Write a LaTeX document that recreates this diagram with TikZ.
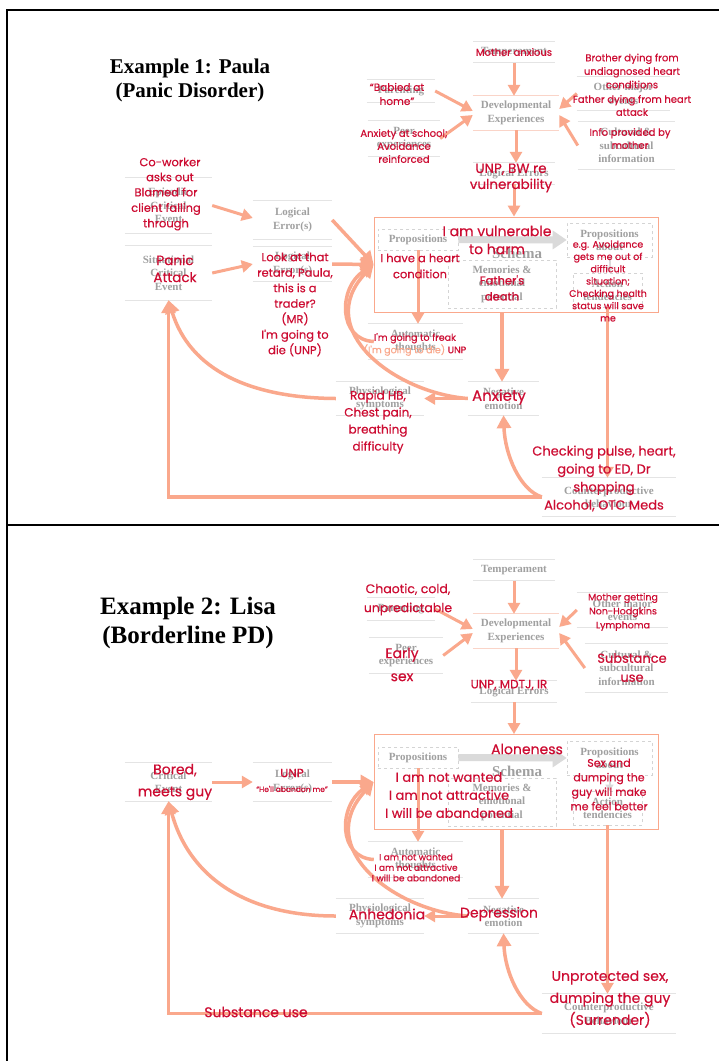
\documentclass[tikz,border=0pt]{standalone}
\usepackage{fontspec}
\usetikzlibrary{arrows.meta}
\newfontfamily\rf{Poppins}[FakeBold=0.35]
\newfontfamily\gf{Liberation Serif}
\definecolor{sal}{RGB}{250,168,140}
\definecolor{crim}{RGB}{205,12,50}
\definecolor{gtx}{RGB}{160,160,160}
\definecolor{gln}{RGB}{228,228,228}
\definecolor{pln}{RGB}{250,212,200}
\definecolor{dsh}{RGB}{212,212,212}
\definecolor{garr}{RGB}{218,218,218}
\newcommand\fsz[2]{\fontsize{#1}{#2}\selectfont}
\tikzset{
 gnode/.style={inner sep=0pt, align=center, text=gtx, font=\gf\bfseries\fsz{11}{13.5}},
 gbox/.style={gnode, draw=dsh, dashed, line width=0.6pt},
 rt/.style={inner sep=0pt, align=center, text=crim},
 arr/.style={draw=sal, line width=3pt, -{Triangle[length=11pt,width=12pt]}},
 arrb/.style={draw=sal, line width=3.5pt, -{Triangle[length=13pt,width=14pt]}},
 glines/.style={draw=gln, line width=0.8pt},
 plines/.style={draw=pln, line width=0.8pt},
 garrow/.style={draw=garr, line width=7pt, -{Triangle[length=14pt,width=18pt]}},
 garrows/.style={draw=garr, line width=2pt, -{Triangle[length=6pt,width=8pt]}},
 schemabox/.style={draw=sal, line width=0.8pt, inner sep=0pt},
 title/.style={inner sep=0pt, align=center, text=black},
}
\begin{document}
\begin{tikzpicture}[x=1pt,y=-1pt]
\useasboundingbox (0,0) rectangle (719,1061);
\fill[white] (0,0) rectangle (719,1061);
% frame
\draw[black, line width=1.1pt] (7,1061) -- (7,10) -- (719,10);
\draw[black, line width=1.1pt] (7,525) -- (719,525);

% ================= PANEL 1 =================
\node[title, font=\gf\bfseries\fsz{21}{24}] (title1) at (190,80) {Example 1: Paula\\(Panic Disorder)};

\node[schemabox, minimum width=284pt, minimum height=95pt] (schema1) at (516,264.5) {};
\node[gnode, minimum width=81pt, minimum height=21pt] (temp1) at (514,52) {Temperament};
\node[gnode, minimum width=68pt, minimum height=22pt] (par1) at (401,91) {Parenting};
\node[gnode, minimum width=72pt, minimum height=35pt] (peer1) at (404,138.5) {Peer\\experiences};
\node[gnode, minimum width=86pt, minimum height=34pt] (dev1) at (516,113) {Developmental\\Experiences};
\node[gnode, minimum width=93pt, minimum height=33pt] (other1) at (623.5,93.5) {Other major\\events};
\node[gnode, minimum width=97pt, minimum height=47pt] (cult1) at (626.5,145.5) {Cultural \&\\subcultural\\information};
\node[gnode, minimum width=82pt, minimum height=21pt] (logerr1) at (514,173.5) {Logical Errors};
\node[gbox, minimum width=80pt, minimum height=21pt] (prop1) at (418,239.5) {Propositions};
\node[gbox, minimum width=85pt, minimum height=34pt] (about1) at (609.5,240) {Propositions\\about};
\node[gbox, minimum width=108pt, minimum height=48pt] (mem1) at (502,284) {Memories \&\\emotional\\potential};
\node[gbox, minimum width=69pt, minimum height=34pt] (act1) at (607.5,290) {Action\\tendencies};
\node[gnode, font=\gf\bfseries\fsz{15}{17}] (scht1) at (517,253) {Schema};
\node[gnode, minimum width=95pt, minimum height=35pt] (auto1) at (415.5,341.5) {Automatic\\thoughts};
\node[gnode, minimum width=79pt, minimum height=38pt] (le1a) at (292.5,220) {Logical\\Error(s)};
\node[gnode, minimum width=79pt, minimum height=34pt] (le1b) at (292.5,264) {Logical\\Error(s)};
\node[gnode, minimum width=87pt, minimum height=55pt] (epi1) at (168.5,205.5) {Episodic\\Critical\\Event};
\node[gnode, minimum width=87pt, minimum height=54pt] (sit1) at (168.5,273) {Situational\\Critical\\Event};
\node[gnode, minimum width=88pt, minimum height=33pt] (phys1) at (380,398.5) {Physiological\\symptoms};
\node[gnode, minimum width=71pt, minimum height=33pt] (neg1) at (503.5,398.5) {Negative\\emotion};
\node[gnode, minimum width=134pt, minimum height=38pt] (cp1) at (609,497) {Counterproductive\\behaviour};

\foreach \n in {temp1,par1,peer1,other1,cult1,logerr1,auto1,le1a,le1b,epi1,sit1,phys1,neg1,cp1}
  {\draw[glines] (\n.north west) -- (\n.north east) (\n.south west) -- (\n.south east);}
\draw[plines] (dev1.north west) -- (dev1.north east) (dev1.south west) -- (dev1.south east);

\draw[garrow] (prop1.east) -- (about1.west);
\draw[garrows] (about1.south) -- (about1.south |- act1.north);

\draw[arr] (temp1.south) -- (temp1.south |- dev1.north);
\draw[arr] (par1.east) -- ([yshift=2pt]dev1.west);
\draw[arr] (peer1.east) -- ([yshift=-2pt]dev1.west);
\draw[arr] (other1.west) -- ([yshift=4pt]dev1.east);
\draw[arr] (cult1.west) -- ([yshift=-2pt]dev1.east);
\draw[arr] (dev1.south) -- (dev1.south |- logerr1.north);
\draw[arr] (logerr1.south) -- (logerr1.south |- schema1.north);
\draw[arr] (epi1.east) -- ([yshift=2pt]le1a.west);
\draw[arr] (sit1.east) -- (le1b.west);
\draw[arrb] (le1a.east) -- (schema1.west);
\draw[arrb] (le1b.east) -- (schema1.west);
\draw[arr] (prop1.south) -- (prop1.south |- auto1.north);
\draw[arrb] ([xshift=6pt]auto1.west) .. controls (338,340) and (338,288) .. (schema1.west);
\draw[arrb] (neg1.west) .. controls (395,393) and (312,330) .. (schema1.west);
\draw[arr] (neg1.west) -- (phys1.east);
\draw[arrb] (phys1.west) .. controls (250,398) and (190,370) .. (sit1.south);
\draw[arrb] (mem1.south |- schema1.south) -- (mem1.south |- neg1.north);
\draw[arr] (act1.south) -- (act1.south |- cp1.north);
\draw[arrb] (cp1.west) .. controls (520,490) and (505,455) .. (neg1.south);
\draw[arrb] (cp1.west) -| (sit1.south);

% red texts panel 1
\node[rt, font=\rf\fsz{10}{12}] (r1a) at (514,52) {Mother anxious};
\node[rt, font=\rf\fsz{10.5}{14}] (r1b) at (397,94) {“Babied at\\home”};
\node[rt, font=\rf\fsz{10}{13}] (r1c) at (404,146) {Anxiety at school;\\Avoidance\\reinforced};
\node[rt, font=\rf\fsz{10}{13.5}] (r1d) at (632,71) {Brother dying from\\undiagnosed heart\\conditions};
\node[rt, font=\rf\fsz{10}{13}] (r1e) at (632,105.5) {Father dying from heart\\attack};
\node[rt, font=\rf\fsz{10}{13}] (r1f) at (630,138.5) {Info provided by\\mother};
\node[rt, font=\rf\fsz{13.5}{16}] (r1g) at (511,178) {UNP, BW re\\vulnerability};
\node[rt, font=\rf\fsz{11.5}{15}] (r1h) at (170,169.5) {Co-worker\\asks out};
\node[rt, font=\rf\fsz{11.5}{15.5}] (r1i) at (166,209) {Blamed for\\client falling\\through};
\node[rt, font=\rf\fsz{13.5}{17}] (r1j) at (175,268.5) {Panic\\Attack};
\node[rt, font=\rf\fsz{11.5}{15.5}] (r1k) at (295,304.5) {Look at that\\retard, Paula,\\this is a\\trader?\\(MR)\\I'm going to\\die (UNP)};
\node[rt, font=\rf\fsz{14}{18}] (r1l) at (497,240) {I am vulnerable\\to harm};
\node[rt, font=\rf\fsz{11.5}{16}] (r1m) at (420,266) {I have a heart\\condition};
\node[rt, font=\rf\fsz{11.5}{16}] (r1n) at (502,288) {Father's\\death};
\node[rt, font=\rf\fsz{9.5}{12.3}] (r1o) at (608,281) {e.g. Avoidance\\gets me out of\\difficult\\situation;\\Checking health\\status will save\\me};
\node[rt, font=\rf\fsz{9.5}{11}] (r1p) at (415,344.5) {I'm going to freak\\{\color{sal}(I'm going to die)} UNP};
\node[rt, font=\rf\fsz{15}{17}] (r1q) at (499,397) {Anxiety};
\node[rt, font=\rf\fsz{12}{17}] (r1r) at (378,422) {Rapid HB,\\Chest pain,\\breathing\\difficulty};
\node[rt, font=\rf\fsz{13}{18}] (r1s) at (604,478.5) {Checking pulse, heart,\\going to ED, Dr\\shopping\\Alcohol, OTC Meds};

% ================= PANEL 2 =================
\node[title, font=\gf\bfseries\fsz{25}{29}] (title2) at (188,622.5) {Example 2: Lisa\\(Borderline PD)};

\node[schemabox, minimum width=284pt, minimum height=95pt] (schema2) at (516,782) {};
\node[gnode, minimum width=81pt, minimum height=21pt] (temp2) at (514,570) {Temperament};
\node[gnode, minimum width=68pt, minimum height=22pt] (par2) at (401,609) {Parenting};
\node[gnode, minimum width=74pt, minimum height=35pt] (peer2) at (406,655.5) {Peer\\experiences};
\node[gnode, minimum width=86pt, minimum height=34pt] (dev2) at (516,631) {Developmental\\Experiences};
\node[gnode, minimum width=91pt, minimum height=34pt] (other2) at (622.5,610) {Other major\\events};
\node[gnode, minimum width=83pt, minimum height=48pt] (cult2) at (626.5,668) {Cultural \&\\subcultural\\information};
\node[gnode, minimum width=86pt, minimum height=21pt] (logerr2) at (514,691.5) {Logical Errors};
\node[gbox, minimum width=80pt, minimum height=21pt] (prop2) at (418,757.5) {Propositions};
\node[gbox, minimum width=85pt, minimum height=34pt] (about2) at (609.5,758) {Propositions\\about};
\node[gbox, minimum width=108pt, minimum height=48pt] (mem2) at (502,802) {Memories \&\\emotional\\potential};
\node[gbox, minimum width=69pt, minimum height=34pt] (act2) at (607.5,808) {Action\\tendencies};
\node[gnode, font=\gf\bfseries\fsz{15}{17}] (scht2) at (517,771) {Schema};
\node[gnode, minimum width=95pt, minimum height=35pt] (auto2) at (415.5,859.5) {Automatic\\thoughts};
\node[gnode, minimum width=87pt, minimum height=38pt] (crit2) at (168.5,782) {Critical\\Event};
\node[gnode, minimum width=79pt, minimum height=38pt] (le2) at (292.5,782) {Logical\\Error(s)};
\node[gnode, minimum width=88pt, minimum height=34pt] (phys2) at (380,916) {Physiological\\symptoms};
\node[gnode, minimum width=71pt, minimum height=34pt] (neg2) at (503.5,916) {Negative\\emotion};
\node[gnode, minimum width=134pt, minimum height=39pt] (cp2) at (609,1013.5) {Counterproductive\\Behaviour};

\foreach \n in {temp2,par2,peer2,other2,cult2,logerr2,auto2,crit2,le2,phys2,neg2,cp2}
  {\draw[glines] (\n.north west) -- (\n.north east) (\n.south west) -- (\n.south east);}
\draw[plines] (dev2.north west) -- (dev2.north east) (dev2.south west) -- (dev2.south east);

\draw[garrow] (prop2.east) -- (about2.west);
\draw[garrows] (about2.south) -- (about2.south |- act2.north);

\draw[arr] (temp2.south) -- (temp2.south |- dev2.north);
\draw[arr] (par2.east) -- ([yshift=2pt]dev2.west);
\draw[arr] (peer2.east) -- ([yshift=-2pt]dev2.west);
\draw[arr] (other2.west) -- ([yshift=4pt]dev2.east);
\draw[arr] (cult2.west) -- ([yshift=-2pt]dev2.east);
\draw[arr] (dev2.south) -- (dev2.south |- logerr2.north);
\draw[arr] (logerr2.south) -- (logerr2.south |- schema2.north);
\draw[arr] (crit2.east) -- (le2.west);
\draw[arrb] (le2.east) -- (schema2.west);
\draw[arr] (prop2.south) -- (prop2.south |- auto2.north);
\draw[arrb] ([xshift=6pt]auto2.west) .. controls (338,858) and (338,806) .. (schema2.west);
\draw[arrb] (neg2.west) .. controls (395,911) and (312,848) .. (schema2.west);
\draw[arr] (neg2.west) -- (phys2.east);
\draw[arrb] (phys2.west) .. controls (250,916) and (190,880) .. (crit2.south);
\draw[arrb] (mem2.south |- schema2.south) -- (mem2.south |- neg2.north);
\draw[arr] (act2.south) -- (act2.south |- cp2.north);
\draw[arrb] (cp2.west) .. controls (520,1006) and (505,972) .. (neg2.south);
\draw[arrb] (cp2.west) -| (crit2.south);

% red texts panel 2
\node[rt, font=\rf\fsz{12.5}{19}] (r2a) at (408,599.5) {Chaotic, cold,\\unpredictable};
\node[rt, font=\rf\fsz{14}{23}] (r2b) at (402,664.5) {Early\\sex};
\node[rt, font=\rf\fsz{9.5}{14}] (r2c) at (623,612) {Mother getting\\Non-Hodgkins\\Lymphoma};
\node[rt, font=\rf\fsz{13}{19}] (r2d) at (632,667.5) {Substance\\use};
\node[rt, font=\rf\fsz{12}{14}] (r2e) at (509,685) {UNP, MDTJ, IR};
\node[rt, font=\rf\fsz{14}{22}] (r2f) at (175,782) {Bored,\\meets guy};
\node[rt, font=\rf\fsz{12}{14}] (r2g) at (292,773) {UNP};
\node[rt, font=\rf\fsz{7.5}{9}] (r2h) at (292,789) {“He'll abandon me”};
\node[rt, font=\rf\fsz{14}{16}] (r2i) at (527,749) {Aloneness};
\node[rt, font=\rf\fsz{13}{18}] (r2j) at (449,795) {I am not wanted\\I am not attractive\\I will be abandoned};
\node[rt, font=\rf\fsz{11}{14.5}] (r2k) at (609,784.5) {Sex and\\dumping the\\guy will make\\me feel better};
\node[rt, font=\rf\fsz{9}{10.5}] (r2l) at (416,867.5) {I am not wanted\\I am not attractive\\I will be abandoned};
\node[rt, font=\rf\fsz{14}{16}] (r2m) at (387,914) {Anhedonia};
\node[rt, font=\rf\fsz{14}{16}] (r2n) at (499,914) {Depression};
\node[rt, font=\rf\fsz{14}{22}] (r2o) at (610,999) {Unprotected sex,\\dumping the guy\\(Surrender)};
\node[rt, font=\rf\fsz{14}{16}] (r2p) at (256,1012) {Substance use};
\end{tikzpicture}
\end{document}
